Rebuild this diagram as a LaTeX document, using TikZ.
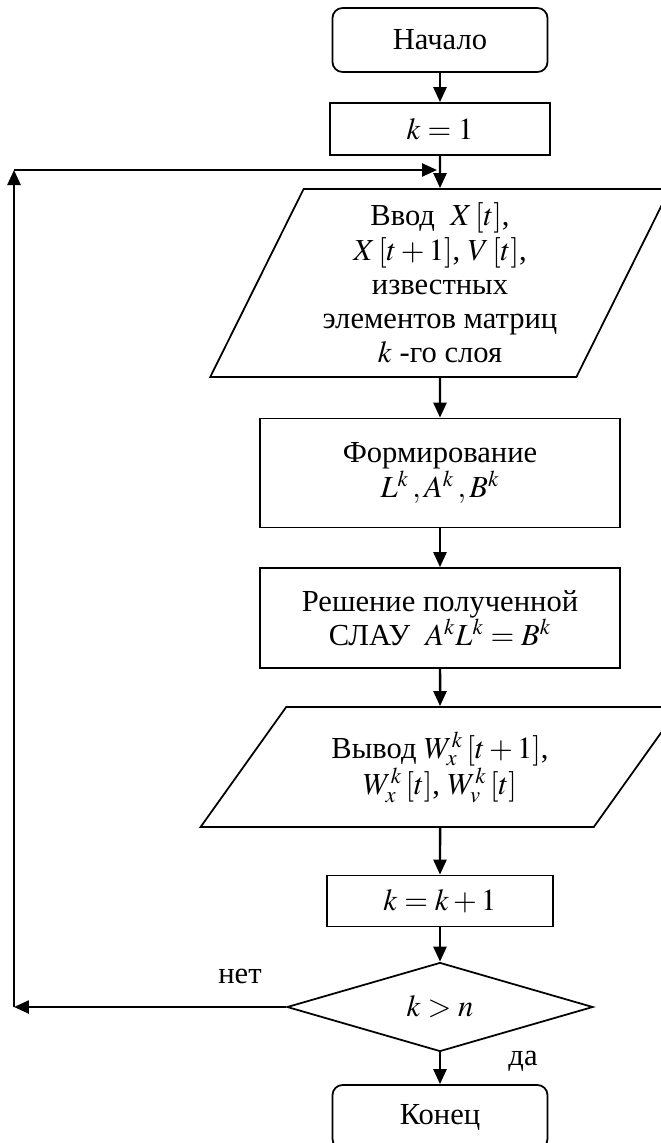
\documentclass[tikz,border=0pt]{standalone}
\usepackage{mathptmx}
\usepackage{fontspec}
\setmainfont{Liberation Serif}
\usetikzlibrary{shapes.geometric,arrows.meta}

\begin{document}
\begin{tikzpicture}[
    x=0.02cm, y=-0.02cm,
    font=\fontsize{17.4}{19.5}\selectfont,
    block/.style={draw, rectangle, line width=1pt, align=center, inner sep=2pt},
    terminal/.style={block, rounded corners=0.2cm, minimum width=4.3cm, minimum height=1.28cm},
    io/.style={draw, trapezium, trapezium stretches=true, line width=1pt, align=center, inner sep=2pt},
    decision/.style={draw, diamond, line width=1pt, inner sep=0pt, minimum width=6.12cm, minimum height=1.6cm},
    arrow/.style={-{Triangle[length=0.3cm, width=0.26cm]}, line width=1.4pt},
    label/.style={inner sep=0pt}
]
\useasboundingbox (0,0) rectangle (660,1143);

% --- Main column ---
\node[terminal] (start) at (440,40) {Начало};
\node[block, minimum width=4.4cm, minimum height=1.04cm] (init) at (440,129) {$k = 1$};

\node[io, trapezium left angle=63.7, trapezium right angle=116.3,
      minimum width=9.22cm, minimum height=3.76cm] (input) at (440,283)
    {Ввод \ $X\,[t]$,\\ $X\,[t + 1]$, $V\,[t]$,\\ известных\\ элементов матриц\\ $k$ -го слоя};

\node[block, minimum width=7.2cm, minimum height=2.18cm] (form) at (440,473)
    {Формирование\\ $L^k\,, A^k\,, B^k$};
\node[block, minimum width=7.2cm, minimum height=2cm] (solve) at (440,618)
    {Решение полученной\\ СЛАУ \ $A^k L^k = B^k$};

\node[io, trapezium left angle=51.3, trapezium right angle=128.7,
      minimum width=9.58cm, minimum height=2.4cm] (output) at (440,767)
    {Вывод $W_x^k\,[t + 1]$,\\ $W_x^k\,[t]$, $W_v^k\,[t]$};

\node[block, minimum width=4.52cm, minimum height=1.02cm] (incr) at (440,901) {$k = k + 1$};
\node[decision] (check) at (440,1007) {$k > n$};
\node[terminal] (stop) at (440,1117) {Конец};

% --- Branch labels ---
\node[label] (no) at (240,976) {нет};
\node[label] (yes) at (523,1061) {да};

% --- Arrows ---
\draw[arrow] (start) -- (init);
\draw[arrow] (init) -- (input);
\draw[arrow] (input) -- (form);
\draw[arrow] (form) -- (solve);
\draw[arrow] (solve) -- (output);
\draw[arrow] (output) -- (incr);
\draw[arrow] (incr) -- (check);
\draw[arrow] (check) -- (stop);

% --- Loop back ---
\coordinate (loopdn) at (14,1007);
\coordinate (loopup) at (14,170);
\coordinate (join) at (437,170);
\draw[arrow] (check.west) -- (loopdn);
\draw[arrow] (loopdn) -- (loopup);
\draw[arrow] (loopup) -- (join);

\end{tikzpicture}
\end{document}
